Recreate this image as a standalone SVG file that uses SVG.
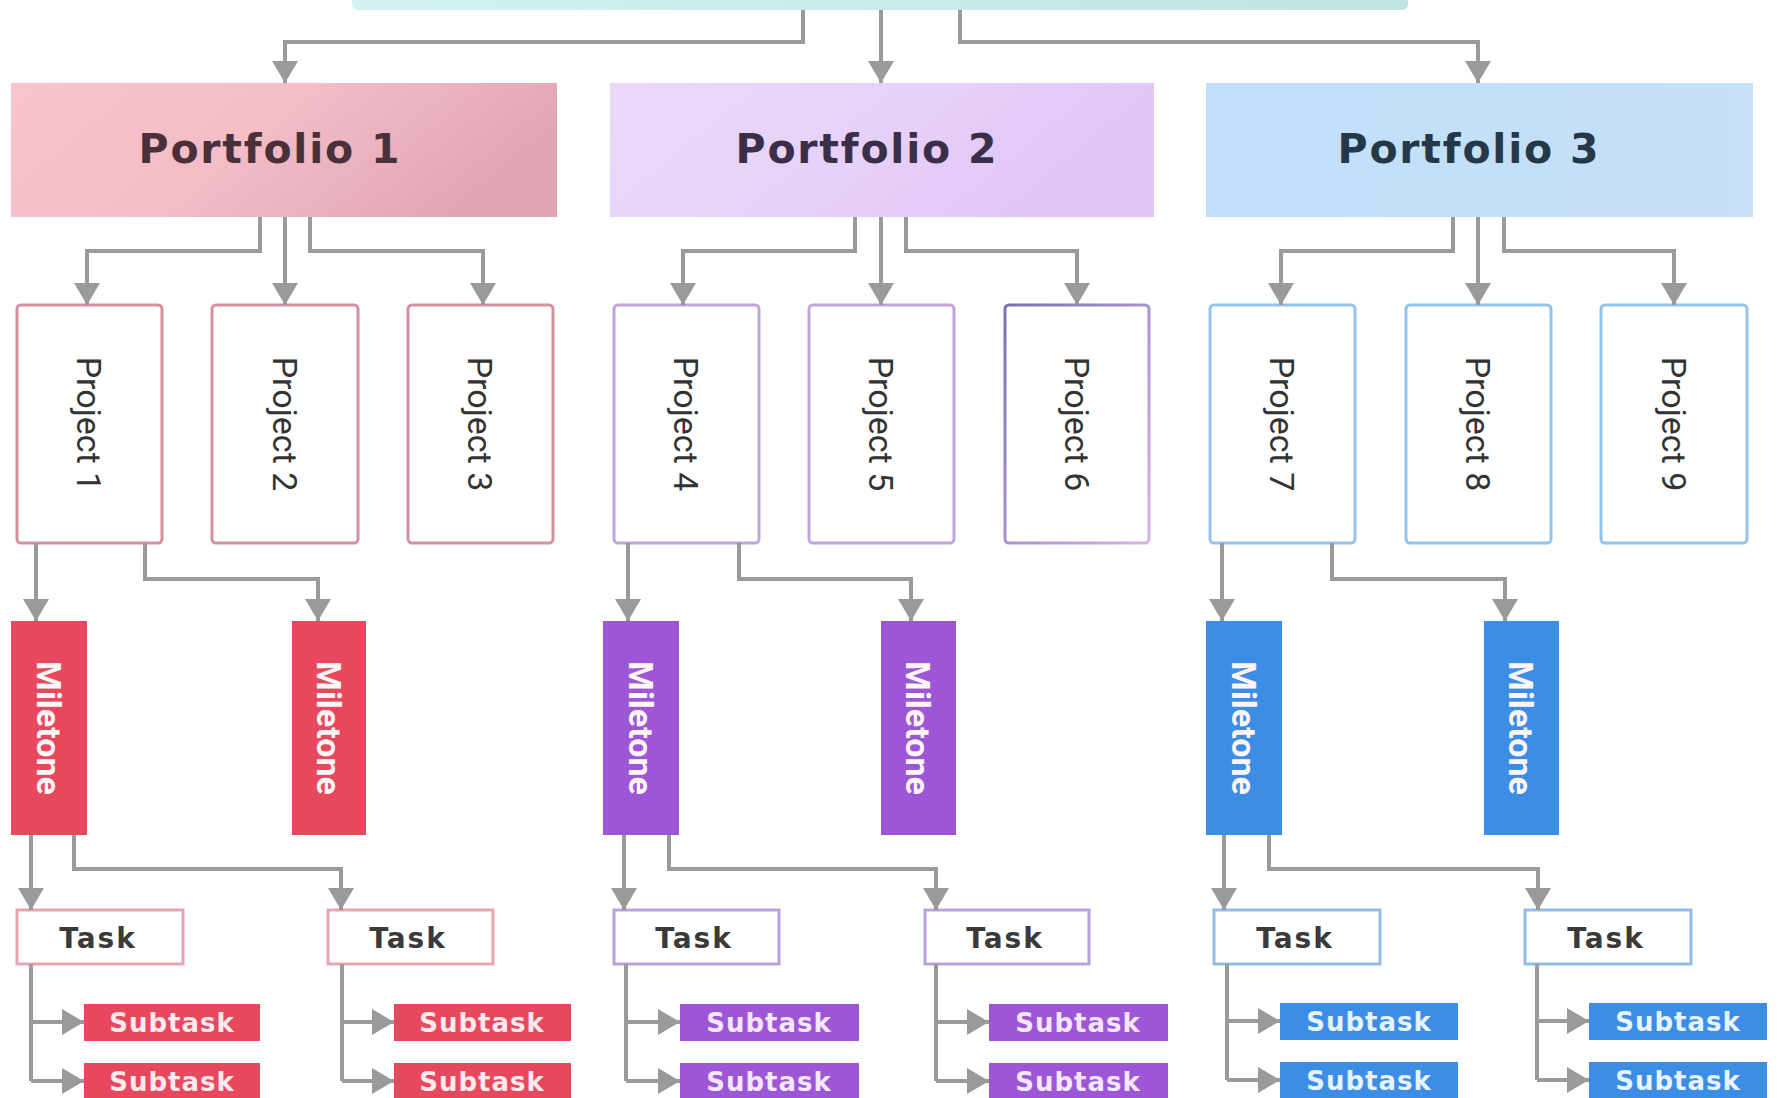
<svg xmlns="http://www.w3.org/2000/svg" width="1781" height="1098" viewBox="0 0 1781 1098">
<defs>
<marker id="arr" markerUnits="userSpaceOnUse" markerWidth="22" markerHeight="26" viewBox="0 0 22 26" refX="22" refY="13" orient="auto">
<path d="M0,0 L22,13 L0,26 z" fill="#9a9a9a"/>
</marker>
<linearGradient id="gTop" x1="0" y1="0" x2="1" y2="0"><stop offset="0" stop-color="#d3f1f1"/><stop offset="1" stop-color="#bfe4e2"/></linearGradient>
<linearGradient id="gP1" x1="0" y1="0" x2="1" y2="0.3"><stop offset="0" stop-color="#f8c4cd"/><stop offset="0.5" stop-color="#f4bdc8"/><stop offset="1" stop-color="#e1a6b5"/></linearGradient>
<linearGradient id="gP2" x1="0" y1="0" x2="1" y2="0.3"><stop offset="0" stop-color="#ead9fa"/><stop offset="0.5" stop-color="#e8d2f9"/><stop offset="1" stop-color="#e0c5f6"/></linearGradient>
<linearGradient id="gP3" x1="0" y1="0" x2="1" y2="0"><stop offset="0" stop-color="#c2dffa"/><stop offset="1" stop-color="#c6e0f7"/></linearGradient>
<linearGradient id="gPr6" x1="0" y1="0" x2="1" y2="1"><stop offset="0" stop-color="#7772b2"/><stop offset="1" stop-color="#d8b4e4"/></linearGradient>
</defs>
<style>
.conn{fill:none;stroke:#9a9a9a;stroke-width:4;marker-end:url(#arr)}
.line{fill:none;stroke:#9a9a9a;stroke-width:4}
.pt{font-family:"DejaVu Sans",sans-serif;font-weight:bold;font-size:41px;letter-spacing:1.8px;text-anchor:middle}
.proj{fill:#ffffff;stroke-width:3}
.pjt{font-family:Roboto,"Liberation Sans",sans-serif;font-size:34px;fill:#333333;text-anchor:middle;dominant-baseline:central}
.mt{font-family:Roboto,"Liberation Sans",sans-serif;font-weight:bold;font-size:34px;fill:#fff4f6;text-anchor:middle;dominant-baseline:central}
.task{fill:#ffffff;stroke-width:3}
.tt{font-family:"DejaVu Sans",sans-serif;font-weight:bold;font-size:28px;letter-spacing:2px;fill:#3a3a3a;text-anchor:middle;dominant-baseline:central}
.st{font-family:"DejaVu Sans",sans-serif;font-weight:bold;font-size:26px;letter-spacing:1px;text-anchor:middle;dominant-baseline:central}
.red{fill:#e8485d}.pur{fill:#9d56d6}.blu{fill:#3b8de6}
</style>
<rect width="1781" height="1098" fill="#ffffff"/>

<g id="root"><rect x="352" y="-20" width="1056" height="30" rx="6" fill="url(#gTop)"/></g>

<g id="portfolio1"><rect x="11" y="83" width="546" height="134" fill="url(#gP1)"/><text class="pt" x="270" y="163" fill="#4a3038">Portfolio 1</text></g>
<g id="portfolio2"><rect x="610" y="83" width="544" height="134" fill="url(#gP2)"/><text class="pt" x="867" y="163" fill="#3a2f48">Portfolio 2</text></g>
<g id="portfolio3"><rect x="1206" y="83" width="547" height="134" fill="url(#gP3)"/><text class="pt" x="1469" y="163" fill="#243848">Portfolio 3</text></g>

<g id="project1"><rect class="proj" x="17" y="305" width="145" height="238" rx="4" stroke="#d4909e"/><text class="pjt" transform="translate(89,424) rotate(90)">Project 1</text></g>
<g id="project2"><rect class="proj" x="212" y="305" width="146" height="238" rx="4" stroke="#d4909e"/><text class="pjt" transform="translate(285,424) rotate(90)">Project 2</text></g>
<g id="project3"><rect class="proj" x="408" y="305" width="145" height="238" rx="4" stroke="#d4909e"/><text class="pjt" transform="translate(480,424) rotate(90)">Project 3</text></g>
<g id="project4"><rect class="proj" x="614" y="305" width="145" height="238" rx="4" stroke="#c2a4dc"/><text class="pjt" transform="translate(686,424) rotate(90)">Project 4</text></g>
<g id="project5"><rect class="proj" x="809" y="305" width="145" height="238" rx="4" stroke="#c2a4dc"/><text class="pjt" transform="translate(881,424) rotate(90)">Project 5</text></g>
<g id="project6"><rect class="proj" x="1005" y="305" width="144" height="238" rx="4" stroke="url(#gPr6)"/><text class="pjt" transform="translate(1077,424) rotate(90)">Project 6</text></g>
<g id="project7"><rect class="proj" x="1210" y="305" width="145" height="238" rx="4" stroke="#93c3ee"/><text class="pjt" transform="translate(1282,424) rotate(90)">Project 7</text></g>
<g id="project8"><rect class="proj" x="1406" y="305" width="145" height="238" rx="4" stroke="#93c3ee"/><text class="pjt" transform="translate(1478,424) rotate(90)">Project 8</text></g>
<g id="project9"><rect class="proj" x="1601" y="305" width="146" height="238" rx="4" stroke="#93c3ee"/><text class="pjt" transform="translate(1674,424) rotate(90)">Project 9</text></g>

<g id="milestone1"><rect class="red" x="11" y="621" width="76" height="214"/><text class="mt" transform="translate(49,728) rotate(90)">Miletone</text></g>
<g id="milestone2"><rect class="red" x="292" y="621" width="74" height="214"/><text class="mt" transform="translate(329,728) rotate(90)">Miletone</text></g>
<g id="milestone3"><rect class="pur" x="603" y="621" width="76" height="214"/><text class="mt" transform="translate(641,728) rotate(90)" fill="#f6ecff">Miletone</text></g>
<g id="milestone4"><rect class="pur" x="881" y="621" width="75" height="214"/><text class="mt" transform="translate(918,728) rotate(90)">Miletone</text></g>
<g id="milestone5"><rect class="blu" x="1206" y="621" width="76" height="214"/><text class="mt" transform="translate(1244,728) rotate(90)">Miletone</text></g>
<g id="milestone6"><rect class="blu" x="1484" y="621" width="75" height="214"/><text class="mt" transform="translate(1521,728) rotate(90)">Miletone</text></g>

<g id="task1"><rect class="task" x="17" y="910" width="166" height="54" stroke="#e7a5b2"/><text class="tt" x="98" y="938">Task</text></g>
<g id="task2"><rect class="task" x="328" y="910" width="165" height="54" stroke="#e7a5b2"/><text class="tt" x="408" y="938">Task</text></g>
<g id="task3"><rect class="task" x="614" y="910" width="165" height="54" stroke="#b9a2d9"/><text class="tt" x="694" y="938">Task</text></g>
<g id="task4"><rect class="task" x="925" y="910" width="164" height="54" stroke="#b9a2d9"/><text class="tt" x="1005" y="938">Task</text></g>
<g id="task5"><rect class="task" x="1214" y="910" width="166" height="54" stroke="#93bde6"/><text class="tt" x="1295" y="938">Task</text></g>
<g id="task6"><rect class="task" x="1525" y="910" width="166" height="54" stroke="#93bde6"/><text class="tt" x="1606" y="938">Task</text></g>

<g id="subtask1a"><rect class="red" x="84" y="1004" width="176" height="37"/><text class="st" x="172" y="1023" fill="#ffe9ed">Subtask</text></g>
<g id="subtask1b"><rect class="red" x="84" y="1063" width="176" height="37"/><text class="st" x="172" y="1082" fill="#ffe9ed">Subtask</text></g>
<g id="subtask2a"><rect class="red" x="394" y="1004" width="177" height="37"/><text class="st" x="482" y="1023" fill="#ffe9ed">Subtask</text></g>
<g id="subtask2b"><rect class="red" x="394" y="1063" width="177" height="37"/><text class="st" x="482" y="1082" fill="#ffe9ed">Subtask</text></g>
<g id="subtask3a"><rect class="pur" x="680" y="1004" width="179" height="37"/><text class="st" x="769" y="1023" fill="#f3e6ff">Subtask</text></g>
<g id="subtask3b"><rect class="pur" x="680" y="1063" width="179" height="37"/><text class="st" x="769" y="1082" fill="#f3e6ff">Subtask</text></g>
<g id="subtask4a"><rect class="pur" x="989" y="1004" width="179" height="37"/><text class="st" x="1078" y="1023" fill="#f3e6ff">Subtask</text></g>
<g id="subtask4b"><rect class="pur" x="989" y="1063" width="179" height="37"/><text class="st" x="1078" y="1082" fill="#f3e6ff">Subtask</text></g>
<g id="subtask5a"><rect class="blu" x="1280" y="1003" width="178" height="37"/><text class="st" x="1369" y="1022" fill="#e6f3ff">Subtask</text></g>
<g id="subtask5b"><rect class="blu" x="1280" y="1062" width="178" height="37"/><text class="st" x="1369" y="1081" fill="#e6f3ff">Subtask</text></g>
<g id="subtask6a"><rect class="blu" x="1589" y="1003" width="178" height="37"/><text class="st" x="1678" y="1022" fill="#e6f3ff">Subtask</text></g>
<g id="subtask6b"><rect class="blu" x="1589" y="1062" width="178" height="37"/><text class="st" x="1678" y="1081" fill="#e6f3ff">Subtask</text></g>

<g id="connectors">
<path class="conn" d="M803,10 V42 H285 V83"/>
<path class="conn" d="M881,10 V83"/>
<path class="conn" d="M960,10 V42 H1478 V83"/>

<path class="conn" d="M260,217 V251 H87 V305"/>
<path class="conn" d="M285,217 V305"/>
<path class="conn" d="M310,217 V251 H483 V305"/>
<path class="conn" d="M855,217 V251 H683 V305"/>
<path class="conn" d="M881,217 V305"/>
<path class="conn" d="M906,217 V251 H1077 V305"/>
<path class="conn" d="M1453,217 V251 H1281 V305"/>
<path class="conn" d="M1478,217 V305"/>
<path class="conn" d="M1504,217 V251 H1674 V305"/>

<path class="conn" d="M36,543 V621"/>
<path class="conn" d="M145,543 V579 H318 V621"/>
<path class="conn" d="M628,543 V621"/>
<path class="conn" d="M739,543 V579 H911 V621"/>
<path class="conn" d="M1222,543 V621"/>
<path class="conn" d="M1332,543 V579 H1505 V621"/>

<path class="conn" d="M31,835 V910"/>
<path class="conn" d="M74,835 V869 H341 V910"/>
<path class="conn" d="M624,835 V910"/>
<path class="conn" d="M669,835 V869 H936 V910"/>
<path class="conn" d="M1224,835 V910"/>
<path class="conn" d="M1269,835 V869 H1538 V910"/>

<path class="line" d="M31,964 V1081"/>
<path class="conn" d="M31,1022 H84"/>
<path class="conn" d="M31,1081 H84"/>
<path class="line" d="M342,964 V1081"/>
<path class="conn" d="M342,1022 H394"/>
<path class="conn" d="M342,1081 H394"/>
<path class="line" d="M626,964 V1081"/>
<path class="conn" d="M626,1022 H680"/>
<path class="conn" d="M626,1081 H680"/>
<path class="line" d="M936,964 V1081"/>
<path class="conn" d="M936,1022 H989"/>
<path class="conn" d="M936,1081 H989"/>
<path class="line" d="M1227,964 V1080"/>
<path class="conn" d="M1227,1021 H1280"/>
<path class="conn" d="M1227,1080 H1280"/>
<path class="line" d="M1537,964 V1080"/>
<path class="conn" d="M1537,1021 H1589"/>
<path class="conn" d="M1537,1080 H1589"/>
</g>
</svg>
